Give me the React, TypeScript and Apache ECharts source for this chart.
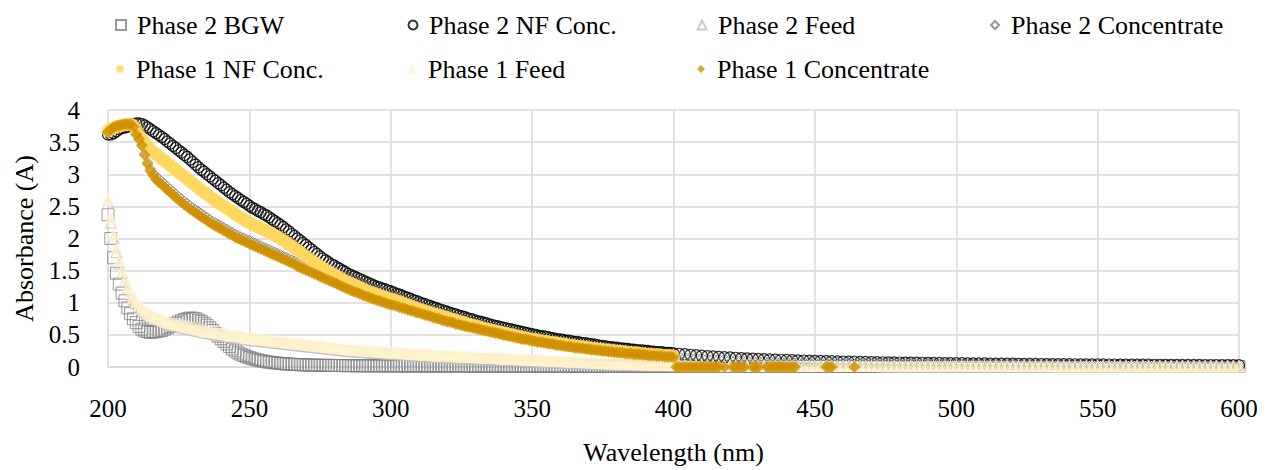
import React, { useEffect, useRef } from "react";
import * as echarts from "echarts";

// Wavelength grid (nm): 1 nm steps to 400, 2 nm steps above
const wavelengths = [
  200, 201, 202, 203, 204, 205, 206, 207, 208, 209,
  210, 211, 212, 213, 214, 215, 216, 217, 218, 219,
  220, 221, 222, 223, 224, 225, 226, 227, 228, 229,
  230, 231, 232, 233, 234, 235, 236, 237, 238, 239,
  240, 241, 242, 243, 244, 245, 246, 247, 248, 249,
  250, 251, 252, 253, 254, 255, 256, 257, 258, 259,
  260, 261, 262, 263, 264, 265, 266, 267, 268, 269,
  270, 271, 272, 273, 274, 275, 276, 277, 278, 279,
  280, 281, 282, 283, 284, 285, 286, 287, 288, 289,
  290, 291, 292, 293, 294, 295, 296, 297, 298, 299,
  300, 301, 302, 303, 304, 305, 306, 307, 308, 309,
  310, 311, 312, 313, 314, 315, 316, 317, 318, 319,
  320, 321, 322, 323, 324, 325, 326, 327, 328, 329,
  330, 331, 332, 333, 334, 335, 336, 337, 338, 339,
  340, 341, 342, 343, 344, 345, 346, 347, 348, 349,
  350, 351, 352, 353, 354, 355, 356, 357, 358, 359,
  360, 361, 362, 363, 364, 365, 366, 367, 368, 369,
  370, 371, 372, 373, 374, 375, 376, 377, 378, 379,
  380, 381, 382, 383, 384, 385, 386, 387, 388, 389,
  390, 391, 392, 393, 394, 395, 396, 397, 398, 399,
  400,
  402, 404, 406, 408, 410, 412, 414, 416, 418, 420,
  422, 424, 426, 428, 430, 432, 434, 436, 438, 440,
  442, 444, 446, 448, 450, 452, 454, 456, 458, 460,
  462, 464, 466, 468, 470, 472, 474, 476, 478, 480,
  482, 484, 486, 488, 490, 492, 494, 496, 498, 500,
  502, 504, 506, 508, 510, 512, 514, 516, 518, 520,
  522, 524, 526, 528, 530, 532, 534, 536, 538, 540,
  542, 544, 546, 548, 550, 552, 554, 556, 558, 560,
  562, 564, 566, 568, 570, 572, 574, 576, 578, 580,
  582, 584, 586, 588, 590, 592, 594, 596, 598, 600,
];

const phase2BGW = [
  2.37, 2.0, 1.7, 1.46, 1.29, 1.15, 1.03, 0.92, 0.83, 0.75,
  0.69, 0.63, 0.59, 0.56, 0.55, 0.54, 0.545, 0.55, 0.56, 0.57,
  0.59, 0.61, 0.63, 0.65, 0.68, 0.7, 0.72, 0.74, 0.75, 0.76,
  0.76, 0.75, 0.73, 0.71, 0.68, 0.65, 0.61, 0.57, 0.52, 0.48,
  0.44, 0.4, 0.36, 0.32, 0.28, 0.25, 0.22, 0.2, 0.18, 0.16,
  0.145, 0.13, 0.12, 0.11, 0.1, 0.09, 0.082, 0.075, 0.07, 0.065,
  0.06, 0.055, 0.051, 0.048, 0.045, 0.042, 0.04, 0.038, 0.036, 0.034,
  0.032, 0.031, 0.03, 0.029, 0.028, 0.027, 0.026, 0.025, 0.025, 0.024,
  0.024, 0.023, 0.023, 0.022, 0.022, 0.021, 0.021, 0.02, 0.02, 0.02,
  0.02, 0.019, 0.019, 0.019, 0.019, 0.018, 0.018, 0.018, 0.018, 0.018,
  0.018, 0.018, 0.018, 0.017, 0.017, 0.017, 0.017, 0.017, 0.017, 0.017,
  0.017, 0.017, 0.017, 0.016, 0.016, 0.016, 0.016, 0.016, 0.016, 0.016,
  0.016, 0.016, 0.016, 0.015, 0.015, 0.015, 0.015, 0.015, 0.015, 0.015,
  0.015, 0.015, 0.015, 0.015, 0.014, 0.014, 0.014, 0.014, 0.014, 0.014,
  0.014, 0.014, 0.014, 0.014, 0.014, 0.013, 0.013, 0.013, 0.013, 0.013,
  0.013, 0.013, 0.013, 0.013, 0.013, 0.013, 0.013, 0.012, 0.012, 0.012,
  0.012, 0.012, 0.012, 0.012, 0.012, 0.012, 0.012, 0.012, 0.012, 0.012,
  0.011, 0.011, 0.011, 0.011, 0.011, 0.011, 0.011, 0.011, 0.011, 0.011,
  0.011, 0.011, 0.011, 0.011, 0.011, 0.011, 0.011, 0.011, 0.01, 0.01,
  0.01, 0.01, 0.01, 0.01, 0.01, 0.01, 0.01, 0.01, 0.01, 0.01,
  0.01,
  0.01, 0.01, 0.01, 0.01, 0.01, 0.01, 0.01, 0.01, 0.01, 0.01,
  0.01, 0.01, 0.01, 0.01, 0.01, 0.01, 0.01, 0.01, 0.01, 0.01,
  0.01, 0.01, 0.01, 0.01, 0.01, 0.01, 0.01, 0.01, 0.01, 0.01,
  0.009, 0.009, 0.009, 0.009, 0.009, 0.009, 0.009, 0.009, 0.009, 0.009,
  0.009, 0.009, 0.009, 0.009, 0.009, 0.009, 0.009, 0.009, 0.009, 0.009,
  0.009, 0.009, 0.009, 0.009, 0.009, 0.009, 0.009, 0.009, 0.009, 0.009,
  0.009, 0.009, 0.009, 0.009, 0.009, 0.009, 0.009, 0.009, 0.009, 0.009,
  0.008, 0.008, 0.008, 0.008, 0.008, 0.008, 0.008, 0.008, 0.008, 0.008,
  0.008, 0.008, 0.008, 0.008, 0.008, 0.008, 0.008, 0.008, 0.008, 0.008,
  0.008, 0.008, 0.008, 0.008, 0.008, 0.008, 0.008, 0.008, 0.008, 0.008,
];

const phase2NFConc = [
  3.62, 3.62, 3.64, 3.67, 3.7, 3.72, 3.73, 3.74, 3.76, 3.78,
  3.79, 3.79, 3.78, 3.76, 3.73, 3.7, 3.67, 3.64, 3.61, 3.58,
  3.55, 3.51, 3.48, 3.44, 3.41, 3.37, 3.34, 3.3, 3.27, 3.23,
  3.19, 3.15, 3.11, 3.07, 3.04, 3.0, 2.97, 2.93, 2.9, 2.86,
  2.83, 2.79, 2.76, 2.72, 2.69, 2.66, 2.63, 2.6, 2.57, 2.54,
  2.51, 2.48, 2.46, 2.43, 2.41, 2.38, 2.36, 2.33, 2.3, 2.27,
  2.24, 2.21, 2.18, 2.14, 2.11, 2.07, 2.04, 2.0, 1.97, 1.93,
  1.9, 1.86, 1.83, 1.79, 1.76, 1.72, 1.69, 1.66, 1.63, 1.6,
  1.58, 1.55, 1.53, 1.5, 1.48, 1.45, 1.43, 1.41, 1.39, 1.37,
  1.35, 1.33, 1.31, 1.29, 1.27, 1.25, 1.24, 1.22, 1.21, 1.19,
  1.18, 1.16, 1.14, 1.13, 1.11, 1.09, 1.08, 1.06, 1.04, 1.03,
  1.01, 0.99, 0.98, 0.96, 0.95, 0.93, 0.92, 0.9, 0.89, 0.87,
  0.86, 0.84, 0.83, 0.82, 0.8, 0.79, 0.78, 0.76, 0.75, 0.74,
  0.72, 0.71, 0.7, 0.69, 0.68, 0.66, 0.65, 0.64, 0.63, 0.62,
  0.61, 0.6, 0.59, 0.58, 0.57, 0.56, 0.55, 0.54, 0.53, 0.52,
  0.51, 0.5, 0.49, 0.48, 0.48, 0.47, 0.46, 0.45, 0.44, 0.43,
  0.43, 0.42, 0.41, 0.41, 0.4, 0.39, 0.39, 0.38, 0.37, 0.37,
  0.36, 0.35, 0.35, 0.34, 0.33, 0.33, 0.32, 0.31, 0.31, 0.3,
  0.3, 0.29, 0.29, 0.28, 0.28, 0.27, 0.27, 0.26, 0.26, 0.26,
  0.25, 0.25, 0.24, 0.24, 0.23, 0.23, 0.23, 0.22, 0.22, 0.22,
  0.21,
  0.205, 0.198, 0.19, 0.183, 0.176, 0.17, 0.164, 0.158, 0.153, 0.148,
  0.143, 0.138, 0.134, 0.13, 0.126, 0.122, 0.118, 0.115, 0.112, 0.109,
  0.106, 0.103, 0.1, 0.098, 0.095, 0.093, 0.091, 0.089, 0.087, 0.085,
  0.083, 0.081, 0.079, 0.078, 0.076, 0.075, 0.073, 0.072, 0.07, 0.069,
  0.068, 0.067, 0.066, 0.065, 0.064, 0.063, 0.062, 0.061, 0.06, 0.059,
  0.058, 0.057, 0.056, 0.055, 0.054, 0.053, 0.052, 0.052, 0.051, 0.05,
  0.049, 0.048, 0.048, 0.047, 0.046, 0.045, 0.045, 0.044, 0.043, 0.043,
  0.042, 0.041, 0.041, 0.04, 0.04, 0.039, 0.038, 0.038, 0.037, 0.037,
  0.036, 0.036, 0.035, 0.035, 0.034, 0.034, 0.033, 0.033, 0.032, 0.032,
  0.032, 0.031, 0.031, 0.03, 0.03, 0.03, 0.029, 0.029, 0.029, 0.028,
];

const phase2Feed = [
  2.55, 2.25, 2.0, 1.79, 1.61, 1.46, 1.33, 1.22, 1.13, 1.05,
  0.99, 0.94, 0.89, 0.85, 0.82, 0.79, 0.77, 0.75, 0.73, 0.71,
  0.69, 0.68, 0.66, 0.65, 0.64, 0.63, 0.62, 0.61, 0.6, 0.59,
  0.58, 0.57, 0.56, 0.55, 0.54, 0.53, 0.525, 0.52, 0.51, 0.5,
  0.495, 0.49, 0.48, 0.47, 0.465, 0.46, 0.455, 0.45, 0.44, 0.43,
  0.425, 0.42, 0.415, 0.41, 0.405, 0.4, 0.395, 0.39, 0.385, 0.38,
  0.375, 0.37, 0.365, 0.36, 0.355, 0.35, 0.345, 0.34, 0.335, 0.33,
  0.325, 0.32, 0.315, 0.31, 0.305, 0.3, 0.295, 0.29, 0.285, 0.28,
  0.275, 0.27, 0.265, 0.26, 0.255, 0.25, 0.247, 0.244, 0.241, 0.238,
  0.235, 0.232, 0.229, 0.226, 0.223, 0.22, 0.217, 0.214, 0.211, 0.208,
  0.205, 0.202, 0.199, 0.196, 0.193, 0.19, 0.187, 0.184, 0.181, 0.178,
  0.175, 0.172, 0.169, 0.166, 0.163, 0.16, 0.158, 0.156, 0.154, 0.152,
  0.15, 0.148, 0.146, 0.144, 0.142, 0.14, 0.138, 0.136, 0.134, 0.132,
  0.13, 0.128, 0.126, 0.124, 0.122, 0.12, 0.118, 0.116, 0.114, 0.112,
  0.11, 0.108, 0.106, 0.104, 0.102, 0.1, 0.098, 0.096, 0.094, 0.092,
  0.09, 0.088, 0.086, 0.084, 0.082, 0.08, 0.078, 0.076, 0.074, 0.072,
  0.07, 0.068, 0.066, 0.064, 0.062, 0.06, 0.058, 0.056, 0.054, 0.052,
  0.05, 0.049, 0.048, 0.047, 0.046, 0.045, 0.044, 0.043, 0.042, 0.041,
  0.04, 0.039, 0.038, 0.037, 0.036, 0.035, 0.034, 0.033, 0.032, 0.031,
  0.03, 0.03, 0.029, 0.029, 0.028, 0.028, 0.027, 0.027, 0.026, 0.026,
  0.025,
  0.025, 0.024, 0.024, 0.023, 0.023, 0.022, 0.022, 0.022, 0.021, 0.021,
  0.021, 0.02, 0.02, 0.02, 0.02, 0.019, 0.019, 0.019, 0.019, 0.018,
  0.018, 0.018, 0.018, 0.018, 0.017, 0.017, 0.017, 0.017, 0.017, 0.017,
  0.016, 0.016, 0.016, 0.016, 0.016, 0.016, 0.015, 0.015, 0.015, 0.015,
  0.015, 0.015, 0.015, 0.014, 0.014, 0.014, 0.014, 0.014, 0.014, 0.014,
  0.014, 0.014, 0.013, 0.013, 0.013, 0.013, 0.013, 0.013, 0.013, 0.013,
  0.013, 0.013, 0.013, 0.012, 0.012, 0.012, 0.012, 0.012, 0.012, 0.012,
  0.012, 0.012, 0.012, 0.012, 0.012, 0.012, 0.012, 0.012, 0.012, 0.012,
  0.012, 0.011, 0.011, 0.011, 0.011, 0.011, 0.011, 0.011, 0.011, 0.011,
  0.011, 0.011, 0.011, 0.011, 0.011, 0.011, 0.011, 0.011, 0.011, 0.011,
];

const phase2Concentrate = [
  3.64, 3.67, 3.7, 3.72, 3.74, 3.75, 3.76, 3.77, 3.76, 3.7,
  3.62, 3.54, 3.44, 3.32, 3.19, 3.08, 3.02, 2.97, 2.93, 2.89,
  2.85, 2.81, 2.77, 2.73, 2.69, 2.65, 2.62, 2.58, 2.55, 2.51,
  2.48, 2.45, 2.42, 2.39, 2.36, 2.33, 2.3, 2.27, 2.25, 2.22,
  2.2, 2.17, 2.15, 2.12, 2.1, 2.07, 2.05, 2.03, 2.01, 1.99,
  1.97, 1.95, 1.93, 1.91, 1.89, 1.87, 1.85, 1.83, 1.81, 1.79,
  1.77, 1.75, 1.73, 1.71, 1.69, 1.67, 1.65, 1.62, 1.6, 1.58,
  1.56, 1.54, 1.52, 1.5, 1.48, 1.46, 1.44, 1.42, 1.4, 1.38,
  1.36, 1.34, 1.32, 1.3, 1.28, 1.26, 1.24, 1.22, 1.21, 1.19,
  1.17, 1.15, 1.14, 1.12, 1.11, 1.09, 1.08, 1.06, 1.05, 1.03,
  1.02, 1.0, 0.99, 0.97, 0.96, 0.94, 0.93, 0.91, 0.9, 0.88,
  0.87, 0.86, 0.84, 0.83, 0.82, 0.8, 0.79, 0.78, 0.76, 0.75,
  0.74, 0.73, 0.72, 0.7, 0.69, 0.68, 0.67, 0.66, 0.65, 0.64,
  0.63, 0.62, 0.61, 0.6, 0.59, 0.58, 0.57, 0.56, 0.55, 0.54,
  0.53, 0.52, 0.51, 0.5, 0.49, 0.48, 0.47, 0.47, 0.46, 0.45,
  0.44, 0.43, 0.42, 0.42, 0.41, 0.4, 0.39, 0.39, 0.38, 0.37,
  0.37, 0.36, 0.35, 0.35, 0.34, 0.33, 0.33, 0.32, 0.31, 0.31,
  0.3, 0.3, 0.29, 0.29, 0.28, 0.28, 0.27, 0.27, 0.26, 0.26,
  0.25, 0.25, 0.24, 0.24, 0.23, 0.23, 0.23, 0.22, 0.22, 0.21,
  0.21, 0.21, 0.2, 0.2, 0.19, 0.19, 0.19, 0.18, 0.18, 0.18,
  0.17,
  0.165, 0.16, 0.155, 0.15, 0.145, 0.14, 0.135, 0.131, 0.127, 0.123,
  0.119, 0.115, 0.112, 0.109, 0.106, 0.103, 0.1, 0.097, 0.095, 0.092,
  0.09, 0.088, 0.086, 0.084, 0.082, 0.08, 0.078, 0.076, 0.075, 0.073,
  0.072, 0.07, 0.069, 0.068, 0.066, 0.065, 0.064, 0.063, 0.062, 0.061,
  0.06, 0.059, 0.058, 0.057, 0.056, 0.055, 0.054, 0.053, 0.053, 0.052,
  0.051, 0.05, 0.049, 0.049, 0.048, 0.047, 0.047, 0.046, 0.045, 0.045,
  0.044, 0.043, 0.043, 0.042, 0.042, 0.041, 0.04, 0.04, 0.039, 0.039,
  0.038, 0.038, 0.037, 0.037, 0.036, 0.036, 0.035, 0.035, 0.034, 0.034,
  0.033, 0.033, 0.033, 0.032, 0.032, 0.031, 0.031, 0.031, 0.03, 0.03,
  0.03, 0.029, 0.029, 0.029, 0.028, 0.028, 0.028, 0.027, 0.027, 0.027,
];

// Phase 1 NF concentrate and concentrate were recorded from 200 to 400 nm only
const phase1NFConc = [
  3.68, 3.7, 3.72, 3.74, 3.75, 3.76, 3.77, 3.78, 3.78, 3.76,
  3.7, 3.62, 3.55, 3.49, 3.44, 3.39, 3.35, 3.31, 3.28, 3.24,
  3.21, 3.17, 3.14, 3.1, 3.07, 3.03, 3.0, 2.96, 2.93, 2.89,
  2.86, 2.82, 2.79, 2.75, 2.72, 2.69, 2.65, 2.62, 2.59, 2.56,
  2.53, 2.5, 2.47, 2.44, 2.41, 2.38, 2.35, 2.32, 2.3, 2.27,
  2.25, 2.22, 2.2, 2.18, 2.16, 2.14, 2.12, 2.1, 2.08, 2.05,
  2.03, 2.0, 1.97, 1.94, 1.91, 1.88, 1.85, 1.82, 1.79, 1.75,
  1.72, 1.69, 1.66, 1.63, 1.6, 1.57, 1.54, 1.51, 1.49, 1.46,
  1.44, 1.41, 1.39, 1.36, 1.34, 1.32, 1.3, 1.28, 1.26, 1.24,
  1.22, 1.2, 1.18, 1.16, 1.15, 1.13, 1.12, 1.1, 1.09, 1.07,
  1.06, 1.05, 1.03, 1.02, 1.0, 0.98, 0.97, 0.95, 0.93, 0.92,
  0.9, 0.89, 0.87, 0.86, 0.85, 0.83, 0.82, 0.81, 0.79, 0.78,
  0.77, 0.75, 0.74, 0.73, 0.71, 0.7, 0.69, 0.67, 0.66, 0.65,
  0.64, 0.63, 0.61, 0.6, 0.59, 0.58, 0.57, 0.56, 0.55, 0.54,
  0.53, 0.52, 0.51, 0.5, 0.49, 0.48, 0.47, 0.46, 0.45, 0.44,
  0.43, 0.43, 0.42, 0.41, 0.4, 0.4, 0.39, 0.38, 0.38, 0.37,
  0.36, 0.36, 0.35, 0.34, 0.34, 0.33, 0.32, 0.32, 0.31, 0.31,
  0.3, 0.29, 0.29, 0.28, 0.28, 0.27, 0.27, 0.26, 0.26, 0.25,
  0.25, 0.24, 0.24, 0.23, 0.23, 0.22, 0.22, 0.22, 0.21, 0.21,
  0.2, 0.2, 0.2, 0.19, 0.19, 0.19, 0.18, 0.18, 0.18, 0.17,
  0.17,
];

const phase1Feed = [
  2.62, 2.32, 2.07, 1.85, 1.66, 1.5, 1.36, 1.25, 1.16, 1.08,
  1.02, 0.97, 0.92, 0.88, 0.85, 0.82, 0.8, 0.78, 0.76, 0.74,
  0.72, 0.71, 0.69, 0.68, 0.67, 0.66, 0.65, 0.64, 0.63, 0.62,
  0.61, 0.6, 0.59, 0.58, 0.57, 0.56, 0.555, 0.55, 0.54, 0.53,
  0.525, 0.52, 0.51, 0.5, 0.495, 0.49, 0.485, 0.48, 0.47, 0.46,
  0.455, 0.45, 0.445, 0.44, 0.435, 0.43, 0.425, 0.42, 0.415, 0.41,
  0.405, 0.4, 0.395, 0.39, 0.385, 0.38, 0.375, 0.37, 0.365, 0.36,
  0.355, 0.35, 0.345, 0.34, 0.335, 0.33, 0.325, 0.32, 0.315, 0.31,
  0.305, 0.3, 0.295, 0.29, 0.285, 0.28, 0.277, 0.274, 0.271, 0.268,
  0.265, 0.262, 0.259, 0.256, 0.253, 0.25, 0.247, 0.244, 0.241, 0.238,
  0.235, 0.232, 0.229, 0.226, 0.223, 0.22, 0.217, 0.214, 0.211, 0.208,
  0.205, 0.202, 0.199, 0.196, 0.193, 0.19, 0.188, 0.186, 0.184, 0.182,
  0.18, 0.178, 0.176, 0.174, 0.172, 0.17, 0.168, 0.166, 0.164, 0.162,
  0.16, 0.158, 0.156, 0.154, 0.152, 0.15, 0.148, 0.146, 0.144, 0.142,
  0.14, 0.138, 0.136, 0.134, 0.132, 0.13, 0.128, 0.126, 0.124, 0.122,
  0.12, 0.118, 0.116, 0.114, 0.112, 0.11, 0.108, 0.106, 0.104, 0.102,
  0.1, 0.098, 0.096, 0.094, 0.092, 0.09, 0.088, 0.086, 0.084, 0.082,
  0.08, 0.078, 0.076, 0.074, 0.072, 0.07, 0.068, 0.066, 0.064, 0.062,
  0.06, 0.058, 0.057, 0.056, 0.055, 0.054, 0.053, 0.052, 0.051, 0.05,
  0.049, 0.048, 0.047, 0.046, 0.045, 0.044, 0.043, 0.042, 0.041, 0.04,
  0.039,
  0.036, 0.034, 0.033, 0.032, 0.031, 0.03, 0.03, 0.029, 0.029, 0.028,
  0.028, 0.028, 0.027, 0.027, 0.027, 0.026, 0.026, 0.026, 0.025, 0.025,
  0.025, 0.025, 0.024, 0.024, 0.024, 0.024, 0.023, 0.023, 0.023, 0.023,
  0.023, 0.022, 0.022, 0.022, 0.022, 0.022, 0.021, 0.021, 0.021, 0.021,
  0.021, 0.021, 0.02, 0.02, 0.02, 0.02, 0.02, 0.02, 0.02, 0.019,
  0.019, 0.019, 0.019, 0.019, 0.019, 0.019, 0.019, 0.018, 0.018, 0.018,
  0.018, 0.018, 0.018, 0.018, 0.018, 0.018, 0.017, 0.017, 0.017, 0.017,
  0.017, 0.017, 0.017, 0.017, 0.017, 0.017, 0.016, 0.016, 0.016, 0.016,
  0.016, 0.016, 0.016, 0.016, 0.016, 0.016, 0.016, 0.015, 0.015, 0.015,
  0.015, 0.015, 0.015, 0.015, 0.015, 0.015, 0.015, 0.015, 0.015, 0.015,
];

const phase1Concentrate = [
  3.66, 3.7, 3.73, 3.75, 3.76, 3.77, 3.78, 3.78, 3.78, 3.74,
  3.62, 3.55, 3.45, 3.3, 3.16, 3.05, 2.98, 2.92, 2.88, 2.84,
  2.8, 2.76, 2.72, 2.68, 2.64, 2.6, 2.57, 2.53, 2.5, 2.46,
  2.43, 2.4, 2.37, 2.34, 2.31, 2.28, 2.25, 2.22, 2.2, 2.17,
  2.15, 2.12, 2.1, 2.07, 2.05, 2.02, 2.0, 1.98, 1.96, 1.94,
  1.92, 1.9, 1.88, 1.86, 1.84, 1.82, 1.8, 1.78, 1.76, 1.74,
  1.72, 1.7, 1.68, 1.66, 1.64, 1.62, 1.6, 1.57, 1.55, 1.53,
  1.51, 1.49, 1.47, 1.45, 1.43, 1.41, 1.39, 1.37, 1.35, 1.33,
  1.31, 1.29, 1.27, 1.25, 1.23, 1.21, 1.19, 1.17, 1.16, 1.14,
  1.12, 1.1, 1.09, 1.07, 1.06, 1.04, 1.03, 1.01, 1.0, 0.98,
  0.97, 0.96, 0.95, 0.93, 0.92, 0.91, 0.89, 0.88, 0.87, 0.85,
  0.84, 0.83, 0.81, 0.8, 0.79, 0.77, 0.76, 0.75, 0.73, 0.72,
  0.71, 0.7, 0.69, 0.67, 0.66, 0.65, 0.64, 0.63, 0.62, 0.61,
  0.6, 0.59, 0.58, 0.57, 0.56, 0.55, 0.54, 0.53, 0.52, 0.51,
  0.5, 0.49, 0.48, 0.47, 0.46, 0.45, 0.44, 0.43, 0.43, 0.42,
  0.41, 0.4, 0.39, 0.39, 0.38, 0.37, 0.36, 0.36, 0.35, 0.34,
  0.34, 0.33, 0.32, 0.32, 0.31, 0.3, 0.3, 0.29, 0.29, 0.28,
  0.28, 0.27, 0.27, 0.26, 0.26, 0.25, 0.25, 0.24, 0.24, 0.23,
  0.23, 0.22, 0.22, 0.21, 0.21, 0.21, 0.2, 0.2, 0.2, 0.19,
  0.19, 0.18, 0.18, 0.18, 0.17, 0.17, 0.17, 0.16, 0.16, 0.16,
  0.15,
];

// Phase 1 concentrate readings that fell to zero just above 400 nm
const phase1ConcZeroWavelengths = [
  401, 402, 403, 404, 405, 406, 407, 408, 409, 410, 411, 412, 413, 414, 415, 416,
  418, 421, 422, 423, 424, 425, 428, 429, 430, 433, 434, 435, 436, 437, 438, 439,
  440, 441, 442, 443, 454, 455, 456, 464,
];
const phase1ConcZeroValues = phase1ConcZeroWavelengths.map(() => 0);

const pairs = (xs: number[], ys: number[]) => ys.map((y, i) => [xs[i], y]);

const FONT = "'Liberation Serif', 'Times New Roman', serif";
const HOLLOW = "rgba(255,255,255,0)";

const legendDefs = [
  { name: "Phase 2 BGW", cx: 120, row: 0, size: 10 },
  { name: "Phase 2 NF Conc.", cx: 412, row: 0, size: 9 },
  { name: "Phase 2 Feed", cx: 701, row: 0, size: 9 },
  { name: "Phase 2 Concentrate", cx: 994, row: 0, size: 8 },
  { name: "Phase 1 NF Conc.", cx: 120, row: 1, size: 8 },
  { name: "Phase 1 Feed", cx: 412, row: 1, size: 9 },
  { name: "Phase 1 Concentrate", cx: 701, row: 1, size: 8 },
];

export default function App() {
  const ref = useRef<HTMLDivElement>(null);

  useEffect(() => {
    if (!ref.current) return;
    const chart = echarts.init(ref.current, null, { renderer: "svg" });

    const legends = legendDefs.map((d) => ({
      data: [d.name],
      left: d.cx - d.size / 2,
      top: d.row === 0 ? 12 : 56,
      padding: 0,
      itemWidth: d.size,
      itemHeight: d.size,
      itemGap: 0,
      selectedMode: false,
      textStyle: {
        fontFamily: FONT,
        fontSize: 26,
        color: "#000",
        padding: [0, 0, 0, 11 - d.size / 2],
      },
    }));

    const option: any = {
      animation: false,
      backgroundColor: "#fff",
      legend: legends,
      grid: { left: 108, right: 30, top: 110, bottom: 98, containLabel: false },
      xAxis: {
        type: "value",
        min: 200,
        max: 600,
        interval: 50,
        name: "Wavelength (nm)",
        nameLocation: "middle",
        nameGap: 72,
        nameTextStyle: { fontFamily: FONT, fontSize: 26, color: "#000" },
        axisLine: { show: true, lineStyle: { color: "#D9D9D9", width: 1.5 } },
        axisTick: { show: false },
        axisLabel: { fontFamily: FONT, fontSize: 25, color: "#000", margin: 29 },
        splitLine: { show: true, lineStyle: { color: "#D9D9D9", width: 1.5 } },
      },
      yAxis: {
        type: "value",
        min: 0,
        max: 4,
        interval: 0.5,
        name: "Absorbance (A)",
        nameLocation: "middle",
        nameGap: 66,
        nameTextStyle: { fontFamily: FONT, fontSize: 26, color: "#000" },
        axisLine: { show: false },
        axisTick: { show: false },
        axisLabel: { fontFamily: FONT, fontSize: 25, color: "#000", margin: 28 },
        splitLine: { show: true, lineStyle: { color: "#D9D9D9", width: 1.5 } },
      },
      series: [
        {
          name: "Phase 2 BGW",
          type: "scatter",
          symbol: "rect",
          symbolSize: 12,
          itemStyle: { color: HOLLOW, borderColor: "#7F7F7F", borderWidth: 1 },
          data: pairs(wavelengths, phase2BGW),
        },
        {
          name: "Phase 2 NF Conc.",
          type: "scatter",
          symbol: "circle",
          symbolSize: 11,
          itemStyle: { color: HOLLOW, borderColor: "#000", borderWidth: 1.2 },
          data: pairs(wavelengths, phase2NFConc),
        },
        {
          name: "Phase 2 Feed",
          type: "scatter",
          symbol: "triangle",
          symbolSize: 11,
          itemStyle: { color: HOLLOW, borderColor: "#BFBFBF", borderWidth: 1 },
          data: pairs(wavelengths, phase2Feed),
        },
        {
          name: "Phase 2 Concentrate",
          type: "scatter",
          symbol: "diamond",
          symbolSize: 10,
          itemStyle: { color: HOLLOW, borderColor: "#7F7F7F", borderWidth: 1 },
          data: pairs(wavelengths, phase2Concentrate),
        },
        {
          name: "Phase 1 NF Conc.",
          type: "scatter",
          symbol: "circle",
          symbolSize: 13,
          itemStyle: { color: "#FFD75E" },
          data: pairs(wavelengths, phase1NFConc),
        },
        {
          name: "Phase 1 Feed",
          type: "scatter",
          symbol: "triangle",
          symbolSize: 13,
          itemStyle: { color: "#FFF2CC" },
          data: pairs(wavelengths, phase1Feed),
        },
        {
          name: "Phase 1 Concentrate",
          type: "scatter",
          symbol: "diamond",
          symbolSize: 12,
          itemStyle: { color: "#CF9000" },
          data: pairs(wavelengths, phase1Concentrate).concat(
            pairs(phase1ConcZeroWavelengths, phase1ConcZeroValues)
          ),
        },
      ],
    };

    chart.setOption(option);
    return () => chart.dispose();
  }, []);

  return <div ref={ref} style={{ width: 1269, height: 470, marginLeft: -8, marginTop: -8 }} />;
}
